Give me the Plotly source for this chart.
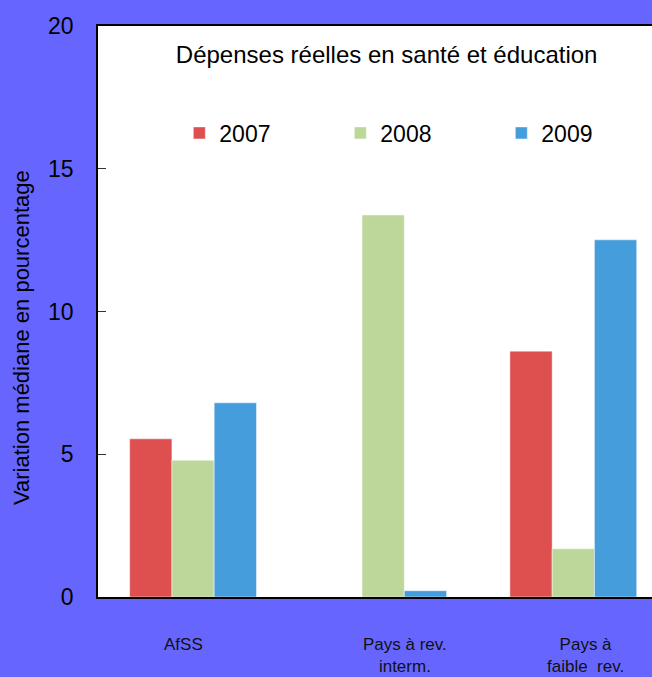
import plotly.graph_objects as go

categories = ["AfSS", "Pays à rev.<br>interm.", "Pays à<br>faible\u00a0 rev."]
years = ["2007", "2008", "2009"]
values_2007 = [5.54, -0.05, 8.61]
values_2008 = [4.79, 13.38, 1.69]
values_2009 = [6.80, 0.22, 12.51]
yticks = [0, 5, 10, 15, 20]

colors = ["#DE5050", "#BDD79B", "#459DDC"]
series = [values_2007, values_2008, values_2009]
xpos = [0, 1, 2]

fig = go.Figure()
for name, vals, c in zip(years, series, colors):
    fig.add_trace(go.Bar(
        x=xpos, y=vals, name=name,
        marker=dict(color=c, line=dict(color="rgba(255,255,255,0.45)", width=1)),
    ))

label_shift = [-10, 22, 12]
for xi, lab, sh in zip(xpos, categories, label_shift):
    fig.add_annotation(x=xi, y=0, xref="x", yref="paper", text=lab, showarrow=False,
                       yanchor="top", yshift=-36, xshift=sh,
                       font=dict(family="Liberation Sans, Arial", size=17, color="#111"))

fig.add_annotation(text="Variation médiane en pourcentage", textangle=-90,
                   xref="paper", yref="paper", x=(22 - 98) / 554, y=(597 - 338) / 571,
                   xanchor="center", yanchor="middle", showarrow=False,
                   font=dict(size=22, color="black"))

fig.update_layout(
    width=652, height=677,
    paper_bgcolor="#6666FF",
    plot_bgcolor="white",
    margin=dict(l=98, r=0, t=26, b=80, autoexpand=False),
    barmode="group", bargap=0.333, bargroupgap=0,
    font=dict(family="Liberation Sans, Arial", color="black"),
    title=dict(text="Dépenses réelles en santé et éducation", x=0.593, xref="container",
               xanchor="center", y=1 - 55 / 677, yref="container", yanchor="middle",
               font=dict(size=24, color="black")),
    legend=dict(orientation="h", x=0.1468, xref="paper", xanchor="left",
                y=(597 - 133) / 571, yref="paper", yanchor="middle",
                font=dict(size=23, color="black"), bgcolor="rgba(0,0,0,0)",
                entrywidth=116, entrywidthmode="pixels", itemclick=False),
    showlegend=True,
)
fig.update_xaxes(range=[-0.5, 2.414], showticklabels=False, ticks="",
                 showline=True, linecolor="black", linewidth=1.5, mirror=True,
                 showgrid=False, zeroline=False)
fig.update_yaxes(range=[0, 20], tickvals=yticks, ticks="inside", ticklen=8,
                 tickcolor="#333", tickwidth=1, showline=True, linecolor="black",
                 linewidth=1.5, showgrid=False, zeroline=False,
                 tickfont=dict(size=23, color="black"), ticklabelstandoff=18)

fig.write_html("out.html", config={"displayModeBar": False},
               post_script="document.body.style.margin='0';")
